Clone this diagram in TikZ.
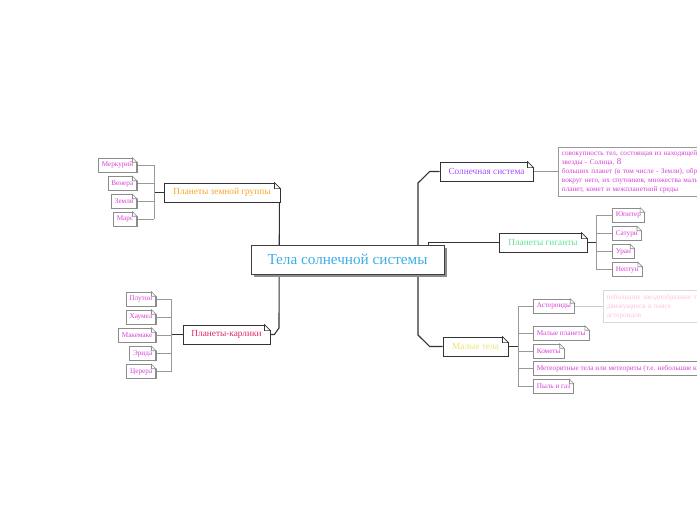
\documentclass[tikz,border=0pt]{standalone}
\usepackage{fontspec}
\setmainfont{Liberation Serif}
\usetikzlibrary{shadows,backgrounds}
\definecolor{skyblue}{HTML}{3DAEE9}
\definecolor{zemorange}{HTML}{F5A623}
\definecolor{solviolet}{HTML}{A64DFF}
\definecolor{gigmint}{HTML}{5EE394}
\definecolor{malyellow}{HTML}{F2E36B}
\definecolor{karlred}{HTML}{E0246A}
\definecolor{leafpink}{HTML}{D63FD6}
\definecolor{palepink}{HTML}{FFC2E0}
\begin{document}
\begin{tikzpicture}[x=1pt,y=-1pt,
  trunk/.style={draw=black!80,line width=1.1pt},
  twig/.style={draw=black!40,line width=0.9pt},
  centre/.style={draw=black!75,line width=1pt,fill=white,minimum width=193pt,minimum height=29pt,
    text=skyblue,font=\fontsize{15.2}{16}\selectfont,
    drop shadow={shadow xshift=2.5pt,shadow yshift=-2.5pt,fill=black!45,opacity=1}},
  topic/.style={draw=black!80,line width=0.8pt,fill=white,minimum height=19pt,inner sep=0pt,
    font=\fontsize{9.3}{10}\selectfont,
    drop shadow={shadow xshift=1.2pt,shadow yshift=-1.2pt,fill=black!80,opacity=1}},
  leaf/.style={draw=black!45,line width=0.6pt,fill=white,minimum height=14pt,inner xsep=3.5pt,inner ysep=0pt,
    text=leafpink,font=\fontsize{7.2}{8}\selectfont,
    drop shadow={shadow xshift=0.8pt,shadow yshift=-0.8pt,fill=black!45,opacity=1}},
  note/.style={line width=0.8pt,fill=white,align=left,anchor=north west,inner sep=3.5pt,
    text width=220pt,font=\fontsize{7.2}{9}\selectfont}
]
\useasboundingbox (0,0) rectangle (697,520);
\clip (0,0) rectangle (697,520);

\node[centre] (cen) at (347.5,259.5) {Тела солнечной системы};

\node[topic,minimum width=116pt,text=zemorange] (zem) at (222,192.5) {Планеты земной группы};
\node[topic,minimum width=87pt,text=karlred] (karl) at (226.5,334.5) {Планеты-карлики};
\node[topic,minimum width=93pt,text=solviolet] (sol) at (486.5,171.5) {Солнечная система};
\node[topic,minimum width=88pt,text=gigmint] (gig) at (543,242.5) {Планеты гиганты};
\node[topic,minimum width=65pt,text=malyellow] (mal) at (475.5,346.5) {Малые тела};

\node[leaf,anchor=east] (merk) at (137,165) {Меркурий};
\node[leaf,anchor=east] (ven) at (137,183.5) {Венера};
\node[leaf,anchor=east] (zeml) at (137,201.5) {Земля};
\node[leaf,anchor=east] (mars) at (137,219) {Марс};

\node[leaf,anchor=east] (plut) at (156,299) {Плутон};
\node[leaf,anchor=east] (haum) at (156,317) {Хаумеа};
\node[leaf,anchor=east] (make) at (156,335) {Макемаке};
\node[leaf,anchor=east] (erid) at (156,353.5) {Эрида};
\node[leaf,anchor=east] (cer) at (156,371.5) {Церера};

\node[leaf,anchor=west] (jup) at (612,215) {Юпитер};
\node[leaf,anchor=west] (sat) at (612,233.5) {Сатурн};
\node[leaf,anchor=west] (ur) at (612,251.5) {Уран};
\node[leaf,anchor=west] (nep) at (612,269.5) {Нептун};

\node[leaf,anchor=west] (ast) at (533,306) {Астероиды};
\node[leaf,anchor=west] (malpl) at (533,333) {Малые планеты};
\node[leaf,anchor=west] (kom) at (533,351) {Кометы};
\node[leaf,anchor=west] (met) at (533,368.5) {Метеоритные тела или метеориты (т.е. небольшие каменные};
\node[leaf,anchor=west] (dust) at (533,386.5) {Пыль и газ};

\node[note,draw=black!40,text=leafpink] (soldesc) at (558,147)
  {совокупность тел, состоящая из находящейся\\
   звезды - Солнца, {\fontsize{9}{9}\selectfont 8}\\
   больших планет (в том числе - Земли), обращающихся\\
   вокруг него, их спутников, множества малых\\
   планет, комет и межпланетной среды};
\node[note,draw=black!15,text=palepink] (astdesc) at (603,290)
  {небольшие звездообразные тела,\\
   движущиеся в поясе\\
   астероидов};

\foreach \n in {merk,ven,zeml,mars,plut,haum,make,erid,cer,jup,sat,ur,nep,ast,malpl,kom,met,dust}{
  \fill[white] ([xshift=-4.5pt]\n.north east) -- ([xshift=-4.5pt,yshift=1pt]\n.north east)
    -- ([xshift=1pt,yshift=1pt]\n.north east) -- ([xshift=1pt,yshift=-4.5pt]\n.north east)
    -- ([yshift=-4.5pt]\n.north east) -- cycle;
  \draw[black!45,line width=0.6pt] ([xshift=-4.5pt]\n.north east) -- ([yshift=-4.5pt]\n.north east)
    -- ([xshift=-4.5pt,yshift=-4.5pt]\n.north east) -- cycle;
}
\foreach \n in {zem,karl,sol,gig,mal}{
  \fill[white] ([xshift=-6pt]\n.north east) -- ([xshift=-6pt,yshift=1pt]\n.north east)
    -- ([xshift=1pt,yshift=1pt]\n.north east) -- ([xshift=1pt,yshift=-6pt]\n.north east)
    -- ([yshift=-6pt]\n.north east) -- cycle;
  \draw[black!80,line width=0.7pt] ([xshift=-6pt]\n.north east) -- ([yshift=-6pt]\n.north east)
    -- ([xshift=-6pt,yshift=-6pt]\n.north east) -- cycle;
}

\begin{scope}[on background layer]
  \coordinate (lt) at (279,328);
  \coordinate (rt) at (418,183);
  \coordinate (rb) at (418,335);
  \draw[trunk] ([xshift=-1pt]zem.south east) -- (lt) -- ([xshift=4pt]karl.east) -- (karl.east);
  \draw[trunk] (sol.west) -- ++(-10,0) -- (rt) -- (rb) -- ([xshift=-13pt]mal.west) -- (mal.west);
  \draw[trunk] ([xshift=-16pt]cen.north east) |- (gig.west);

  \coordinate (zb) at (154,192.5);
  \draw[trunk] (zb) -- (zem.west);
  \foreach \n in {merk,ven,zeml,mars}
    \draw[twig] (\n.east) -- (\n.east -| zb);
  \draw[twig] (merk.east -| zb) -- (mars.east -| zb);

  \coordinate (kb) at (171,334.5);
  \draw[trunk] (kb) -- (karl.west);
  \foreach \n in {plut,haum,make,erid,cer}
    \draw[twig] (\n.east) -- (\n.east -| kb);
  \draw[twig] (plut.east -| kb) -- (cer.east -| kb);

  \coordinate (gb) at (596,242.5);
  \draw[trunk] (gig.east) -- (gb);
  \foreach \n in {jup,sat,ur,nep}
    \draw[twig] (\n.west) -- (\n.west -| gb);
  \draw[twig] (jup.west -| gb) -- (nep.west -| gb);

  \coordinate (mb) at (518,346.5);
  \draw[trunk] (mal.east) -- (mb);
  \foreach \n in {ast,malpl,kom,met,dust}
    \draw[twig] (\n.west) -- (\n.west -| mb);
  \draw[twig] (ast.west -| mb) -- (dust.west -| mb);

  \draw[twig] (sol.east) -- (sol.east -| soldesc.west);
  \draw[twig,black!20] (ast.east) -- (ast.east -| astdesc.west);
\end{scope}
\end{tikzpicture}
\end{document}
